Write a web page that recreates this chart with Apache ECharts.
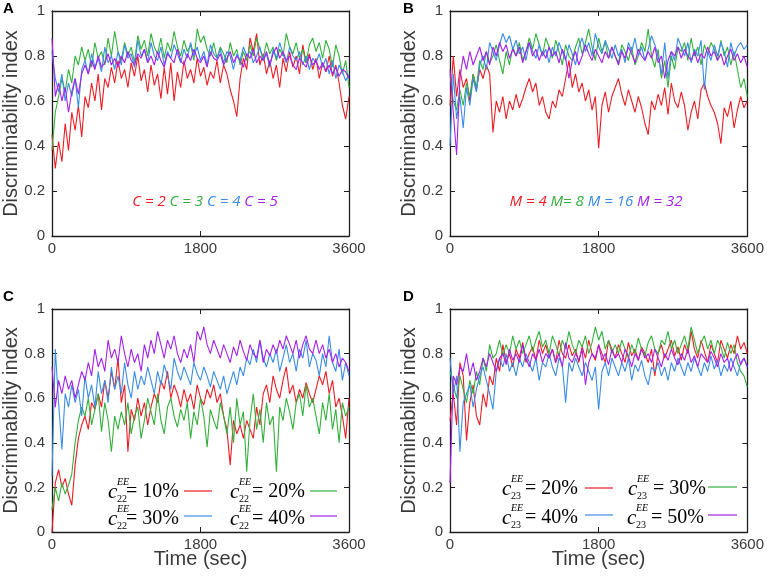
<!DOCTYPE html>
<html><head><meta charset="utf-8">
<script src="https://cdn.jsdelivr.net/npm/echarts@6/dist/echarts.min.js"></script>
<style>html,body{margin:0;padding:0;background:#fff}#c{width:767px;height:576px}</style>
</head><body><div id="c"></div>
<script>
// time samples (sec)
const times = [0,40,80,120,160,200,240,280,320,360,
400,440,480,520,560,600,640,680,720,760,
800,840,880,920,960,1000,1040,1080,1120,1160,
1200,1240,1280,1320,1360,1400,1440,1480,1520,1560,
1600,1640,1680,1720,1760,1800,1840,1880,1920,1960,
2000,2040,2080,2120,2160,2200,2240,2280,2320,2360,
2400,2440,2480,2520,2560,2600,2640,2680,2720,2760,
2800,2840,2880,2920,2960,3000,3040,3080,3120,3160,
3200,3240,3280,3320,3360,3400,3440,3480,3520,3560,
3600];
const xTicks = [0, 1800, 3600];
const yTicks = [0, 0.2, 0.4, 0.6, 0.8, 1];

// Panel A: C = 2,3,4,5
const A_red = [0.45,0.30,0.42,0.33,0.50,0.38,0.55,0.47,0.58,0.44,
0.62,0.57,0.68,0.60,0.72,0.56,0.70,0.66,0.75,0.68,
0.78,0.70,0.74,0.66,0.77,0.71,0.80,0.69,0.74,0.64,
0.76,0.67,0.72,0.61,0.75,0.63,0.77,0.60,0.73,0.66,
0.78,0.70,0.74,0.68,0.79,0.71,0.75,0.67,0.73,0.70,
0.78,0.68,0.76,0.72,0.65,0.60,0.53,0.70,0.79,0.74,
0.88,0.82,0.90,0.76,0.81,0.72,0.78,0.70,0.76,0.66,
0.79,0.73,0.82,0.75,0.80,0.72,0.85,0.77,0.81,0.74,
0.79,0.70,0.77,0.73,0.80,0.71,0.76,0.68,0.58,0.52,
0.62];
const A_green = [0.38,0.55,0.62,0.70,0.64,0.74,0.68,0.80,0.76,0.84,
0.78,0.83,0.75,0.86,0.79,0.82,0.76,0.88,0.80,0.91,
0.82,0.78,0.86,0.80,0.84,0.77,0.89,0.83,0.87,0.80,
0.90,0.84,0.81,0.88,0.79,0.86,0.82,0.91,0.84,0.80,
0.87,0.82,0.85,0.78,0.92,0.86,0.89,0.83,0.80,0.86,
0.79,0.84,0.81,0.77,0.86,0.80,0.83,0.76,0.82,0.78,
0.85,0.80,0.88,0.83,0.79,0.86,0.81,0.84,0.78,0.83,
0.80,0.90,0.84,0.81,0.86,0.79,0.83,0.77,0.85,0.88,
0.82,0.86,0.79,0.87,0.83,0.75,0.85,0.80,0.72,0.78,
0.66];
const A_blue = [0.82,0.70,0.64,0.72,0.60,0.68,0.62,0.70,0.57,0.74,
0.78,0.72,0.81,0.75,0.79,0.73,0.84,0.77,0.80,0.74,
0.82,0.76,0.85,0.79,0.81,0.75,0.87,0.80,0.83,0.77,
0.86,0.80,0.78,0.84,0.76,0.82,0.79,0.85,0.81,0.77,
0.83,0.79,0.86,0.80,0.84,0.78,0.82,0.76,0.85,0.81,
0.79,0.83,0.77,0.82,0.80,0.74,0.81,0.78,0.84,0.80,
0.82,0.77,0.80,0.84,0.78,0.81,0.75,0.83,0.79,0.86,
0.81,0.77,0.84,0.80,0.78,0.82,0.76,0.80,0.74,0.79,
0.77,0.81,0.75,0.79,0.72,0.78,0.70,0.76,0.73,0.69,
0.72];
const A_purple = [0.88,0.62,0.68,0.60,0.66,0.55,0.64,0.70,0.63,0.72,
0.76,0.72,0.78,0.74,0.80,0.75,0.77,0.81,0.76,0.79,
0.75,0.80,0.77,0.82,0.78,0.76,0.81,0.79,0.83,0.77,
0.80,0.76,0.82,0.78,0.75,0.81,0.79,0.77,0.83,0.78,
0.76,0.81,0.78,0.83,0.79,0.77,0.80,0.75,0.82,0.79,
0.78,0.81,0.76,0.79,0.82,0.77,0.80,0.78,0.75,0.81,
0.79,0.83,0.77,0.80,0.78,0.82,0.76,0.81,0.84,0.79,
0.82,0.78,0.80,0.76,0.74,0.79,0.77,0.75,0.80,0.76,
0.78,0.74,0.77,0.73,0.76,0.72,0.75,0.71,0.74,0.73,
0.70];

// Panel B: M = 4,8,16,32
const B_red = [0.58,0.80,0.62,0.74,0.66,0.70,0.60,0.72,0.65,0.74,
0.70,0.76,0.72,0.46,0.60,0.55,0.62,0.52,0.60,0.56,
0.63,0.57,0.61,0.66,0.70,0.64,0.68,0.58,0.62,0.55,
0.52,0.60,0.57,0.65,0.62,0.70,0.78,0.66,0.72,0.64,
0.68,0.60,0.65,0.56,0.62,0.39,0.58,0.64,0.55,0.62,
0.66,0.70,0.63,0.58,0.65,0.60,0.55,0.62,0.57,0.50,
0.45,0.60,0.56,0.63,0.58,0.66,0.54,0.68,0.60,0.57,
0.64,0.58,0.47,0.55,0.60,0.52,0.65,0.68,0.62,0.58,
0.55,0.50,0.41,0.57,0.53,0.60,0.48,0.56,0.62,0.57,
0.60];
const B_green = [0.72,0.60,0.56,0.65,0.58,0.68,0.62,0.72,0.66,0.78,
0.74,0.82,0.77,0.80,0.85,0.78,0.72,0.82,0.76,0.84,
0.80,0.86,0.78,0.82,0.88,0.83,0.90,0.85,0.80,0.88,
0.84,0.79,0.87,0.82,0.76,0.85,0.80,0.78,0.84,0.88,
0.81,0.86,0.92,0.84,0.78,0.88,0.82,0.86,0.79,0.84,
0.80,0.77,0.85,0.82,0.78,0.84,0.76,0.80,0.86,0.82,
0.92,0.80,0.75,0.83,0.70,0.78,0.66,0.80,0.74,0.84,
0.82,0.86,0.78,0.88,0.80,0.84,0.76,0.85,0.81,0.86,
0.83,0.78,0.87,0.80,0.84,0.76,0.82,0.74,0.66,0.70,
0.62];
const B_blue = [0.40,0.72,0.52,0.62,0.48,0.66,0.58,0.70,0.64,0.76,
0.80,0.74,0.86,0.82,0.78,0.85,0.90,0.86,0.89,0.83,
0.87,0.81,0.84,0.78,0.86,0.82,0.79,0.85,0.80,0.83,
0.77,0.84,0.80,0.86,0.82,0.78,0.85,0.81,0.76,0.84,
0.88,0.82,0.86,0.80,0.90,0.84,0.81,0.87,0.83,0.79,
0.85,0.80,0.83,0.77,0.86,0.82,0.88,0.80,0.84,0.78,
0.83,0.89,0.85,0.80,0.72,0.86,0.70,0.82,0.78,0.88,
0.84,0.80,0.86,0.77,0.83,0.80,0.87,0.65,0.82,0.78,
0.85,0.80,0.86,0.82,0.75,0.86,0.80,0.84,0.86,0.83,
0.85];
const B_purple = [0.74,0.55,0.36,0.70,0.80,0.74,0.82,0.76,0.80,0.84,
0.78,0.82,0.76,0.84,0.80,0.86,0.82,0.85,0.79,0.83,
0.80,0.84,0.77,0.82,0.86,0.80,0.83,0.78,0.82,0.79,
0.84,0.80,0.82,0.77,0.83,0.79,0.70,0.78,0.82,0.76,
0.80,0.85,0.81,0.78,0.83,0.80,0.77,0.82,0.79,0.84,
0.80,0.76,0.82,0.79,0.84,0.81,0.77,0.83,0.80,0.78,
0.82,0.79,0.84,0.77,0.80,0.70,0.78,0.82,0.80,0.84,
0.79,0.83,0.80,0.78,0.82,0.77,0.81,0.79,0.84,0.80,
0.82,0.78,0.81,0.76,0.80,0.83,0.78,0.81,0.77,0.80,
0.75];

// Panel C: c22EE = 10,20,30,40 %
const C_red = [0.00,0.22,0.28,0.20,0.24,0.17,0.12,0.30,0.42,0.48,
0.52,0.46,0.58,0.55,0.62,0.56,0.68,0.60,0.72,0.64,
0.78,0.58,0.66,0.36,0.55,0.50,0.60,0.52,0.58,0.48,
0.56,0.62,0.58,0.68,0.64,0.72,0.60,0.66,0.62,0.56,
0.64,0.58,0.62,0.55,0.66,0.60,0.57,0.64,0.60,0.66,
0.58,0.62,0.52,0.46,0.30,0.50,0.44,0.48,0.42,0.50,
0.46,0.42,0.56,0.48,0.62,0.66,0.58,0.70,0.64,0.60,
0.68,0.74,0.62,0.66,0.58,0.64,0.60,0.67,0.62,0.58,
0.64,0.70,0.66,0.72,0.62,0.68,0.56,0.60,0.52,0.42,
0.60];
const C_green = [0.10,0.20,0.14,0.22,0.17,0.21,0.26,0.40,0.50,0.56,
0.52,0.60,0.48,0.55,0.62,0.45,0.58,0.50,0.36,0.52,
0.46,0.54,0.48,0.58,0.44,0.52,0.56,0.42,0.50,0.60,
0.54,0.48,0.62,0.50,0.44,0.56,0.60,0.52,0.47,0.55,
0.50,0.58,0.42,0.54,0.48,0.60,0.52,0.38,0.55,0.50,
0.46,0.58,0.52,0.44,0.56,0.40,0.60,0.48,0.54,0.27,
0.50,0.62,0.46,0.55,0.40,0.58,0.48,0.52,0.27,0.56,
0.50,0.60,0.54,0.46,0.58,0.62,0.52,0.66,0.56,0.60,
0.52,0.44,0.58,0.50,0.62,0.46,0.55,0.40,0.58,0.52,
0.56];
const C_blue = [0.25,0.82,0.58,0.37,0.62,0.56,0.66,0.58,0.64,0.52,
0.70,0.60,0.66,0.56,0.72,0.62,0.68,0.58,0.74,0.64,
0.70,0.62,0.76,0.66,0.60,0.72,0.64,0.70,0.66,0.74,
0.68,0.62,0.72,0.66,0.75,0.70,0.64,0.78,0.72,0.68,
0.74,0.70,0.66,0.76,0.71,0.68,0.74,0.70,0.65,0.72,
0.68,0.64,0.70,0.62,0.67,0.72,0.66,0.74,0.70,0.78,
0.75,0.82,0.76,0.86,0.78,0.74,0.80,0.76,0.82,0.72,
0.78,0.84,0.76,0.80,0.72,0.82,0.78,0.86,0.74,0.80,
0.77,0.70,0.80,0.74,0.88,0.76,0.72,0.82,0.68,0.76,
0.70];
const C_purple = [0.74,0.56,0.68,0.62,0.70,0.64,0.68,0.60,0.66,0.72,
0.68,0.76,0.70,0.82,0.74,0.78,0.72,0.86,0.78,0.82,
0.76,0.88,0.80,0.74,0.82,0.76,0.80,0.72,0.84,0.78,
0.86,0.80,0.90,0.84,0.78,0.86,0.82,0.88,0.80,0.76,
0.82,0.78,0.84,0.76,0.90,0.86,0.92,0.84,0.80,0.86,
0.82,0.78,0.84,0.80,0.76,0.83,0.79,0.86,0.81,0.77,
0.84,0.80,0.78,0.86,0.76,0.82,0.79,0.84,0.80,0.86,
0.82,0.88,0.84,0.80,0.86,0.78,0.84,0.88,0.82,0.80,
0.86,0.80,0.84,0.78,0.82,0.76,0.80,0.74,0.78,0.76,
0.72];

// Panel D: c23EE = 20,30,40,50 %
const D_red = [0.50,0.62,0.48,0.76,0.70,0.41,0.58,0.66,0.52,0.48,
0.62,0.56,0.70,0.66,0.78,0.72,0.84,0.76,0.80,0.74,
0.82,0.78,0.85,0.76,0.80,0.83,0.77,0.86,0.80,0.84,
0.78,0.82,0.76,0.86,0.80,0.78,0.84,0.79,0.82,0.76,
0.83,0.78,0.86,0.80,0.77,0.84,0.80,0.76,0.86,0.82,
0.78,0.84,0.80,0.76,0.85,0.79,0.82,0.77,0.83,0.80,
0.76,0.82,0.70,0.80,0.84,0.78,0.82,0.86,0.79,0.83,
0.77,0.84,0.80,0.90,0.82,0.78,0.86,0.81,0.76,0.84,
0.80,0.76,0.86,0.82,0.78,0.84,0.80,0.88,0.82,0.85,
0.80];
const D_green = [0.72,0.66,0.60,0.70,0.64,0.58,0.68,0.62,0.72,0.66,
0.78,0.72,0.84,0.78,0.80,0.86,0.79,0.84,0.80,0.88,
0.82,0.86,0.80,0.84,0.88,0.81,0.86,0.90,0.83,0.86,
0.80,0.88,0.84,0.79,0.86,0.82,0.90,0.84,0.80,0.86,
0.83,0.88,0.80,0.85,0.92,0.86,0.90,0.82,0.86,0.80,
0.84,0.80,0.86,0.82,0.78,0.84,0.80,0.87,0.82,0.79,
0.85,0.88,0.82,0.80,0.86,0.84,0.90,0.82,0.86,0.80,
0.84,0.88,0.82,0.92,0.86,0.80,0.85,0.88,0.82,0.86,
0.80,0.86,0.83,0.78,0.85,0.80,0.84,0.76,0.72,0.70,
0.65];
const D_blue = [0.78,0.62,0.70,0.36,0.58,0.62,0.66,0.56,0.64,0.70,
0.74,0.68,0.62,0.55,0.72,0.78,0.74,0.80,0.72,0.76,
0.70,0.78,0.74,0.80,0.76,0.72,0.78,0.68,0.76,0.74,
0.80,0.74,0.70,0.78,0.75,0.58,0.76,0.72,0.78,0.74,
0.70,0.76,0.72,0.68,0.74,0.55,0.72,0.76,0.70,0.78,
0.74,0.70,0.76,0.72,0.78,0.68,0.75,0.72,0.77,0.70,
0.66,0.74,0.72,0.76,0.70,0.74,0.68,0.76,0.72,0.78,
0.74,0.70,0.76,0.72,0.78,0.74,0.70,0.76,0.72,0.79,
0.73,0.77,0.70,0.75,0.72,0.78,0.74,0.70,0.76,0.78,
0.74];
const D_purple = [0.22,0.70,0.66,0.74,0.72,0.80,0.70,0.76,0.68,0.72,
0.78,0.74,0.80,0.76,0.72,0.78,0.80,0.75,0.82,0.77,
0.80,0.76,0.84,0.78,0.74,0.80,0.77,0.82,0.76,0.80,
0.78,0.82,0.76,0.80,0.74,0.85,0.78,0.76,0.80,0.77,
0.82,0.66,0.76,0.80,0.78,0.84,0.77,0.80,0.75,0.82,
0.78,0.80,0.76,0.82,0.79,0.74,0.80,0.77,0.82,0.78,
0.80,0.76,0.82,0.78,0.74,0.80,0.77,0.82,0.78,0.75,
0.80,0.77,0.82,0.76,0.79,0.74,0.80,0.78,0.76,0.81,
0.78,0.74,0.80,0.76,0.78,0.72,0.77,0.80,0.75,0.78,
0.74];

const namesA = ['C = 2','C = 3','C = 4','C = 5'];
const namesB = ['M = 4','M= 8','M = 16','M = 32'];
const namesC = ['10%','20%','30%','40%'];
const namesD = ['20%','30%','40%','50%'];

const colors = ['#ec1c24','#33b03c','#3a8ce6','#a322e8'];
const axisColor = '#1e1e1e';
const textColor = '#3a3a3a';

const panels = [
  {box:{left:50, top:11, width:299, height:225}, data:[A_red,A_green,A_blue,A_purple], names:namesA, xName:''},
  {box:{left:450, top:11, width:299, height:225}, data:[B_red,B_green,B_blue,B_purple], names:namesB, xName:''},
  {box:{left:50, top:309, width:299, height:223}, data:[C_red,C_green,C_blue,C_purple], names:namesC.map(s=>'c22EE = '+s), xName:'Time (sec)'},
  {box:{left:450, top:309, width:299, height:223}, data:[D_red,D_green,D_blue,D_purple], names:namesD.map(s=>'c23EE = '+s), xName:'Time (sec)'}
];

const grid = [], xAxis = [], yAxis = [], series = [];
panels.forEach((p, g) => {
  grid.push(Object.assign({containLabel:false}, p.box));
  const line = {show:true, onZero:false, lineStyle:{color:axisColor, width:1.3}};
  const tick = {show:true, inside:true, length:5, lineStyle:{color:axisColor, width:1}};
  xAxis.push({gridIndex:g, type:'value', min:xTicks[0], max:xTicks[2], interval:xTicks[1]-xTicks[0], position:'bottom',
    axisLine:line, axisTick:tick, splitLine:{show:false},
    axisLabel:{fontSize:15, color:textColor, margin:5, fontFamily:'Liberation Sans', formatter:(v)=>String(v)},
    name:p.xName, nameLocation:'middle', nameGap:17, nameMoveOverlap:false,
    nameTextStyle:{fontSize:20, color:textColor, fontFamily:'Liberation Sans'}});
  xAxis.push({gridIndex:g, type:'value', min:xTicks[0], max:xTicks[2], interval:xTicks[1]-xTicks[0], position:'top',
    axisLine:line, axisTick:tick, splitLine:{show:false}, axisLabel:{show:false}});
  yAxis.push({gridIndex:g, type:'value', min:yTicks[0], max:yTicks[5], interval:yTicks[1]-yTicks[0], position:'left',
    axisLine:line, axisTick:tick, splitLine:{show:false},
    axisLabel:{fontSize:15, color:textColor, margin:7, fontFamily:'Liberation Sans', formatter:(v)=>String(Math.round(v*10)/10)},
    name:'Discriminability index', nameLocation:'middle', nameGap:31, nameMoveOverlap:false,
    nameTextStyle:{fontSize:20, color:textColor, fontFamily:'Liberation Sans'}});
  yAxis.push({gridIndex:g, type:'value', min:yTicks[0], max:yTicks[5], interval:yTicks[1]-yTicks[0], position:'right',
    axisLine:line, axisTick:tick, splitLine:{show:false}, axisLabel:{show:false}});
  p.data.forEach((vals, k) => {
    series.push({type:'line', name:p.names[k], xAxisIndex:2*g, yAxisIndex:2*g,
      data: vals.map((v, i) => [times[i], v]),
      showSymbol:false, symbol:'none', lineStyle:{color:colors[k], width:1.1}, itemStyle:{color:colors[k]},
      z: 2 + k, silent:true});
  });
});

// custom legends
const graphic = [];
function letter(t, x, y){ graphic.push({type:'text', x:x, y:y, style:{text:t, font:'bold 15px "Liberation Sans"', fill:'#000', textVerticalAlign:'middle'}}); }
letter('A', 3, 9); letter('B', 403, 9); letter('C', 3, 297); letter('D', 403, 297);

function simpleLegend(names, cx, cy){
  const keys = ['r','g','b','p'];
  const rich = {};
  keys.forEach((k,i)=>{ rich[k] = {fill:colors[i], font:'italic 15px "Open Sans"'}; });
  graphic.push({type:'text', x:cx, y:cy, style:{
    text: names.map((n,i)=>'{'+keys[i]+'|'+n+'}').join('{r| }'),
    rich: rich, textAlign:'center', textVerticalAlign:'middle', font:'italic 15px "Open Sans"'}});
}
simpleLegend(namesA, 205, 202);
simpleLegend(namesB, 596, 202);

function eqLegend(cx, lx, y, sub, label, color, l1, l2, ly){
  graphic.push({type:'text', x:cx, y:y, style:{text:'c', font:'italic 21px "Liberation Serif"', fill:'#000', textVerticalAlign:'middle'}});
  graphic.push({type:'text', x:cx+9, y:y-10, style:{text:'EE', font:'italic 10px "Liberation Serif"', fill:'#000', textVerticalAlign:'middle'}});
  graphic.push({type:'text', x:cx+9, y:y+7, style:{text:sub, font:'10px "Liberation Serif"', fill:'#000', textVerticalAlign:'middle'}});
  graphic.push({type:'text', x:lx, y:y, style:{text:'= '+label, font:'20px "Liberation Serif"', fill:'#000', textVerticalAlign:'middle'}});
  graphic.push({type:'line', shape:{x1:l1, y1:ly, x2:l2, y2:ly}, style:{stroke:color, lineWidth:1.2}});
}
// panel C
eqLegend(108, 126, 492, '22', namesC[0], colors[0], 184, 212, 491);
eqLegend(230, 252, 492, '22', namesC[1], colors[1], 310, 337, 491);
eqLegend(108, 126, 519, '22', namesC[2], colors[2], 184, 212, 516);
eqLegend(230, 252, 519, '22', namesC[3], colors[3], 310, 337, 516);
// panel D
eqLegend(502, 525, 489, '23', namesD[0], colors[0], 585, 613, 488);
eqLegend(628, 653, 489, '23', namesD[1], colors[1], 708, 737, 487);
eqLegend(502, 525, 518, '23', namesD[2], colors[2], 585, 613, 515);
eqLegend(627, 651, 518, '23', namesD[3], colors[3], 708, 737, 515);

const chart = echarts.init(document.getElementById('c'), null, {renderer:'canvas'});
chart.setOption({animation:false, backgroundColor:'#fff', grid, xAxis, yAxis, series, graphic});
</script></body></html>
